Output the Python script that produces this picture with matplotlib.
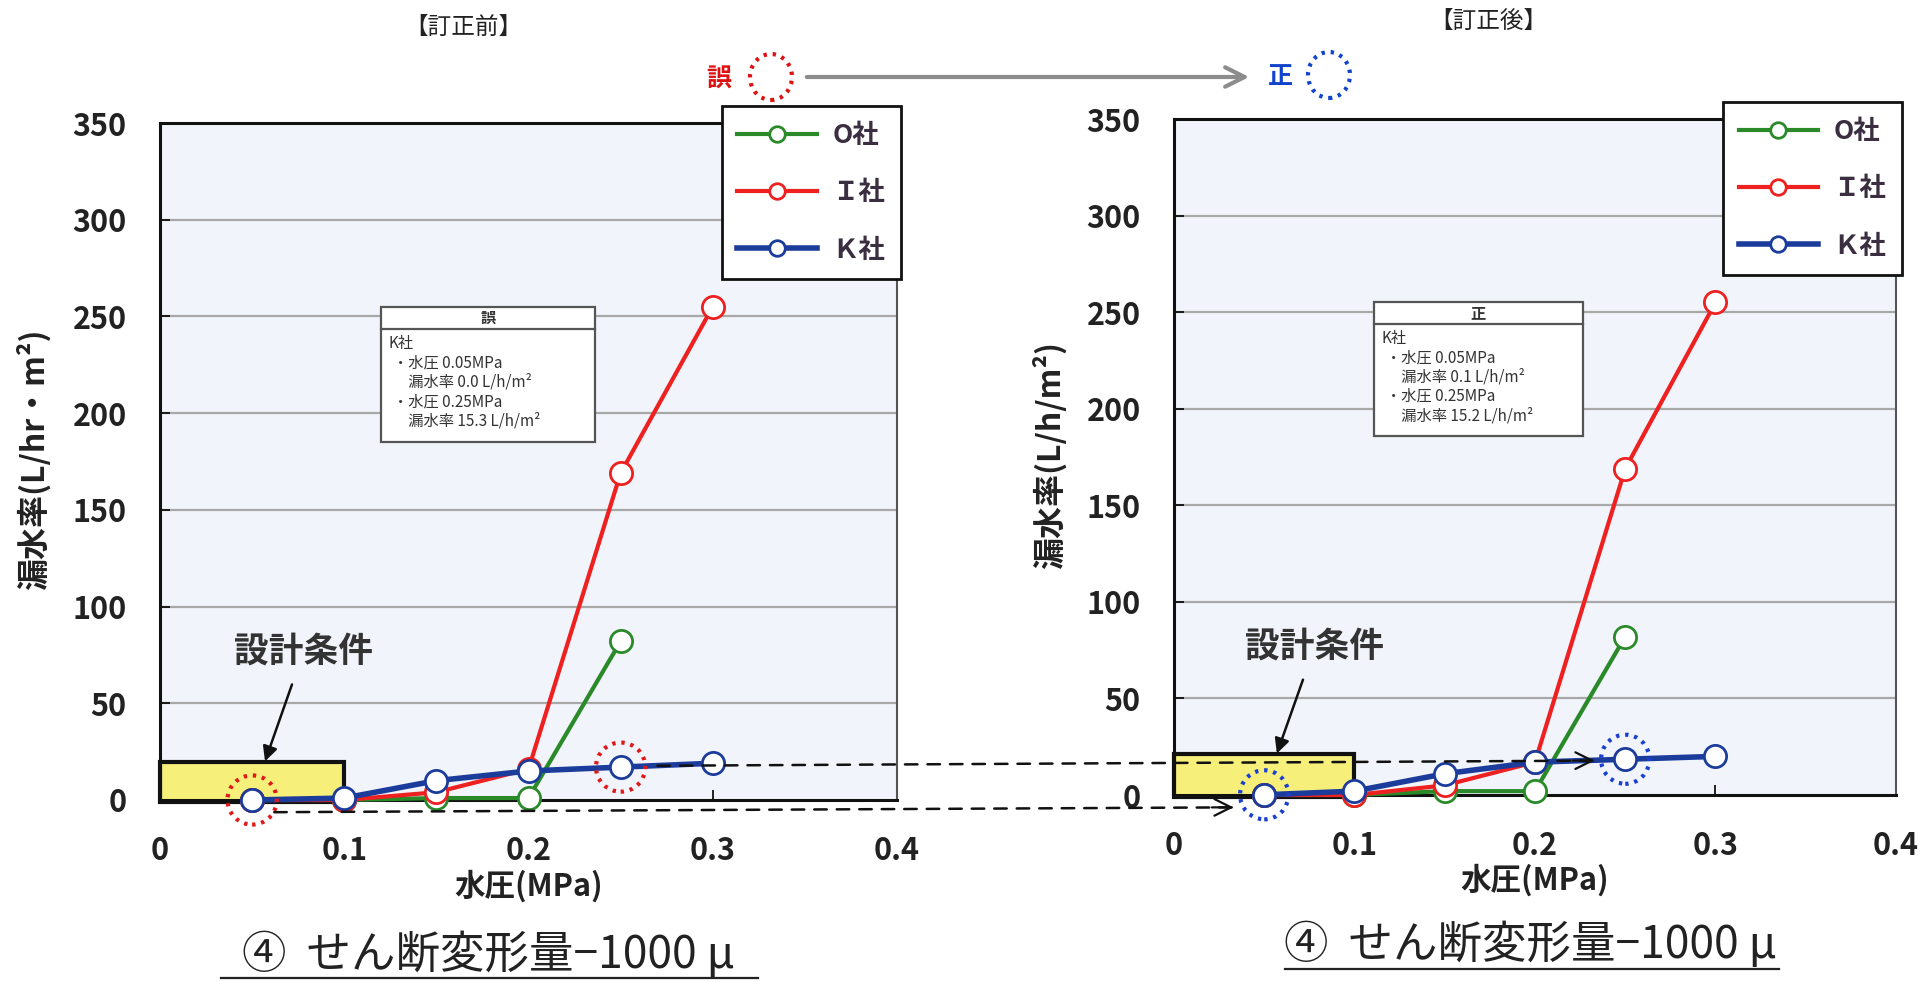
import numpy as np
import matplotlib
matplotlib.use("Agg")
import matplotlib.pyplot as plt
from matplotlib.patches import Rectangle, Ellipse, FancyArrowPatch, ConnectionPatch
from matplotlib.lines import Line2D

plt.rcParams['font.family'] = ['Noto Sans CJK JP', 'DejaVu Sans']

# ---------------- data ----------------
x_pressure = [0.05, 0.10, 0.15, 0.20, 0.25, 0.30]
x_pressure_O = [0.05, 0.10, 0.15, 0.20, 0.25]

before_O = [0, 0, 1, 1, 82]
before_I = [0, 0, 4, 16, 169, 255]
before_K = [0.0, 1, 10, 15, 17, 19]

after_O = [0, 0, 2, 2, 82]
after_I = [0, 0, 5, 17, 169, 255]
after_K = [0.1, 2, 11, 17, 18.5, 20]

series_labels = ['O社', 'Ｉ社', 'Ｋ社']
series_colors = ['#2a8a2a', '#ee2020', '#1c3c9c']

x_ticks = [0, 0.1, 0.2, 0.3, 0.4]
x_tick_labels = ['0', '0.1', '0.2', '0.3', '0.4']
y_ticks = [0, 50, 100, 150, 200, 250, 300, 350]

design_box = (0.0, 0.1)  # 設計条件 range of pressure

box_before = ['K社', '・水圧 0.05MPa', '　漏水率 0.0 L/h/m²', '・水圧 0.25MPa', '　漏水率 15.3 L/h/m²']
box_after = ['K社', '・水圧 0.05MPa', '　漏水率 0.1 L/h/m²', '・水圧 0.25MPa', '　漏水率 15.2 L/h/m²']

W, H = 1924, 982
fig = plt.figure(figsize=(W / 100, H / 100), dpi=100)
fig.patch.set_facecolor('white')

ax1 = fig.add_axes([160 / W, 1 - 800 / H, 737 / W, 677 / H])
ax2 = fig.add_axes([1174 / W, 1 - 795 / H, 722 / W, 676 / H])


def setup(ax, O, I, K, ylabel, box_lines, box_title, legend_x, box_x0, box_x1, box_top, box_sep, box_bot, box_top_h, circ_color):
    ax.set_facecolor('#f1f4fa')
    ax.set_xlim(0, 0.4)
    ax.set_ylim(0, 350)
    ax.set_xticks(x_ticks)
    ax.set_xticklabels(x_tick_labels)
    ax.set_yticks(y_ticks)
    for t in ax.get_xticklabels() + ax.get_yticklabels():
        t.set_fontweight('bold')
        t.set_fontsize(22)
        t.set_color('#222222')
    ax.tick_params(axis='x', direction='in', length=7, pad=25, width=1.2)
    ax.tick_params(axis='y', direction='in', length=7, pad=24, width=1.2)
    for yv in y_ticks[1:-1]:
        ax.axhline(yv, color='#a8a8a8', lw=1.6, zorder=1)
    for s in ax.spines.values():
        s.set_color('#111111')
        s.set_linewidth(2.2)
    ax.spines['right'].set_linewidth(1.5)
    ax.spines['right'].set_color('#555555')

    # design condition box
    ax.add_patch(Rectangle((design_box[0], -1), design_box[1] - design_box[0], box_top_h,
                           facecolor='#f6ef7a', edgecolor='#111111', lw=3, zorder=2, clip_on=False))

    hs = []
    for xs, ys, c, lab, lw in [(x_pressure_O, O, series_colors[0], series_labels[0], 3),
                               (x_pressure, I, series_colors[1], series_labels[1], 3),
                               (x_pressure, K, series_colors[2], series_labels[2], 4)]:
        h, = ax.plot(xs, ys, color=c, lw=lw, marker='o', markersize=16, markerfacecolor='white',
                     markeredgecolor=c, markeredgewidth=2, zorder=4, clip_on=False, label=lab)
        hs.append(h)

    leg = ax.legend(handles=hs, loc='upper left', bbox_to_anchor=(legend_x, 1.025),
                    borderaxespad=0.0,
                    frameon=True, fancybox=False, framealpha=1, edgecolor='#111111',
                    handlelength=3.0, labelspacing=1.15, borderpad=0.6, handletextpad=0.6,
                    markerscale=0.7, prop={'weight': 'bold', 'size': 19})
    leg.get_frame().set_linewidth(2)
    leg.set_zorder(6)
    for t in leg.get_texts():
        t.set_color('#3a2e40')

    ax.set_ylabel(ylabel, fontsize=23, fontweight='bold', color='#222222')
    ax.set_xlabel('水圧(MPa)', fontsize=22, fontweight='bold', color='#222222')
    ax.xaxis.set_label_coords(0.5, -0.127)
    ax.xaxis.label.set_va('center')
    ax.yaxis.set_label_coords(-0.172, 0.503)
    ax.yaxis.label.set_va('center')

    # annotation box
    ax.add_patch(Rectangle((box_x0, box_bot), box_x1 - box_x0, box_top - box_bot,
                           transform=ax.transAxes, facecolor='white', edgecolor='#555555', lw=1.6, zorder=5))
    ax.add_line(Line2D([box_x0, box_x1], [box_sep, box_sep], transform=ax.transAxes,
                       color='#555555', lw=1.6, zorder=5))
    ax.text((box_x0 + box_x1) / 2, (box_top + box_sep) / 2, box_title, transform=ax.transAxes,
            ha='center', va='center', fontsize=11, fontweight='bold', color='#333333', zorder=6)
    ys0 = box_sep - 0.022
    for i, line in enumerate(box_lines):
        ax.text(box_x0 + 0.010 + (0.006 if i > 0 else 0), ys0 - i * 0.0285, line, transform=ax.transAxes,
                ha='left', va='center', fontsize=11, color='#333333', zorder=6)

    # 設計条件 annotation
    ax.annotate('設計条件', xy=(0.057, box_top_h - 0.5), xytext=(0.078, 77),
                ha='center', va='center', fontsize=25, fontweight='bold', color='#333333',
                arrowprops=dict(arrowstyle='-|>', color='#111111', lw=1.8, mutation_scale=22,
                                shrinkA=10, shrinkB=0), zorder=6)

    # dotted circles
    for (cx, cy) in [(0.05, K[0]), (0.25, K[4])]:
        ax.add_patch(Ellipse((cx, cy), 2 * 0.0134, 2 * 12.7, facecolor='none', edgecolor=circ_color,
                             lw=3, linestyle=(0, (0.8, 1.4)), zorder=5, clip_on=False))


setup(ax1, before_O, before_I, before_K, '漏水率(L/hr・m²)', box_before, '誤', 0.762,
      0.300, 0.590, 0.728, 0.696, 0.529, 20.5, '#e01818')
setup(ax2, after_O, after_I, after_K, '漏水率(L/h/m²)', box_after, '正', 0.760,
      0.277, 0.566, 0.729, 0.697, 0.531, 22, '#1a3fd0')

# dashed connectors between the two charts
for (pa, pb) in [((0.062, -6.3), (0.033, -6.4)), ((0.27, 17.7), (0.233, 17.8))]:
    con = ConnectionPatch(xyA=pa, coordsA=ax1.transData, xyB=pb, coordsB=ax2.transData,
                          color='#111111', lw=1.8, linestyle=(0, (5, 4)), zorder=7)
    fig.add_artist(con)
    ax2.annotate('', xy=pb, xytext=(pb[0] - 0.012, pb[1]),
                 arrowprops=dict(arrowstyle='->', color='#111111', lw=1.6, mutation_scale=30,
                                 shrinkA=0, shrinkB=0), annotation_clip=False, zorder=7)

# top labels
fig.text(463 / W, 1 - 27 / H, '【訂正前】', ha='center', va='center', fontsize=17, color='#222222')
fig.text(1488 / W, 1 - 21 / H, '【訂正後】', ha='center', va='center', fontsize=17, color='#222222')
fig.text(719 / W, 1 - 80 / H, '誤', ha='center', va='center', fontsize=18, fontweight='bold', color='#dd1111')
fig.text(1280 / W, 1 - 77 / H, '正', ha='center', va='center', fontsize=18, fontweight='bold', color='#1144cc')
fig.add_artist(Ellipse((771 / W, 1 - 77 / H), 42 / W, 46 / H, transform=fig.transFigure,
                       facecolor='none', edgecolor='#dd1111', lw=3, linestyle=(0, (0.8, 1.4))))
fig.add_artist(Ellipse((1329 / W, 1 - 75 / H), 42 / W, 46 / H, transform=fig.transFigure,
                       facecolor='none', edgecolor='#1144cc', lw=3, linestyle=(0, (0.8, 1.4))))
fig.add_artist(FancyArrowPatch((804 / W, 1 - 77 / H), (1252 / W, 1 - 77 / H), transform=fig.transFigure,
                               arrowstyle='->', mutation_scale=35, color='#8c8c8c', lw=3))

# captions
fig.text(488 / W, 1 - 955 / H, '④  せん断変形量−1000 μ', ha='center', va='center', fontsize=32, color='#222222')
fig.text(1530 / W, 1 - 945 / H, '④  せん断変形量−1000 μ', ha='center', va='center', fontsize=32, color='#222222')
fig.add_artist(Line2D([221 / W, 758 / W], [1 - 978 / H, 1 - 978 / H], transform=fig.transFigure, color='#222222', lw=1.6))
fig.add_artist(Line2D([1285 / W, 1779 / W], [1 - 969 / H, 1 - 969 / H], transform=fig.transFigure, color='#222222', lw=1.6))

fig.savefig('out.png', dpi=100)
